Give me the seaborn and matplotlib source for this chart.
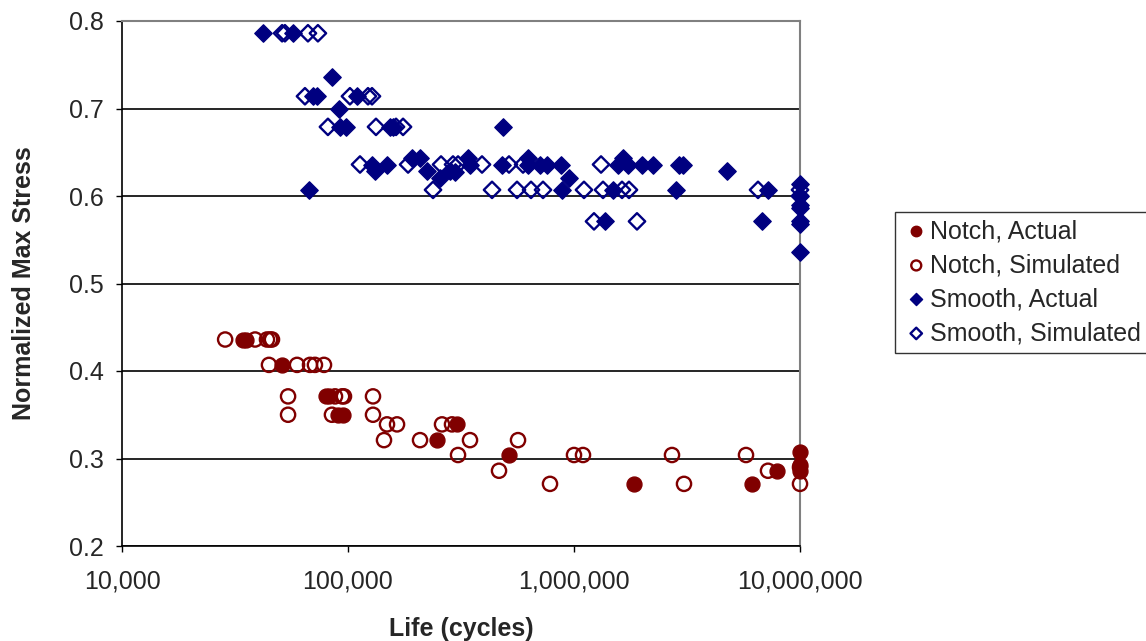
import matplotlib
matplotlib.use("Agg")
import matplotlib.pyplot as plt
import seaborn as sns
import pandas as pd
from matplotlib.ticker import FixedLocator, FuncFormatter, NullLocator

# ---- data ----
notch_actual_life = [34300, 35400, 51100, 79900, 82400, 90300, 95000, 303700, 247700,
                     515700, 1843000, 6132000, 7910000, 10000000, 10000000, 10000000]
notch_actual_stress = [0.436, 0.436, 0.407, 0.371, 0.371, 0.350, 0.350, 0.339, 0.321,
                       0.304, 0.271, 0.271, 0.286, 0.307, 0.293, 0.286]

notch_sim_life = [28600, 38800, 43800, 45200, 46100,
                  44700, 59500, 67900, 71400, 78300,
                  54300, 87600, 94100, 96000, 129000,
                  54300, 84900, 129000,
                  148800, 164800, 260600, 288500,
                  144300, 208300, 346600, 565300,
                  306800, 1000000, 1096000, 2714000, 5769000,
                  465800, 7218000, 10000000,
                  783100, 3067000, 10000000]
notch_sim_stress = [0.436, 0.436, 0.436, 0.436, 0.436,
                    0.407, 0.407, 0.407, 0.407, 0.407,
                    0.371, 0.371, 0.371, 0.371, 0.371,
                    0.350, 0.350, 0.350,
                    0.339, 0.339, 0.339, 0.339,
                    0.321, 0.321, 0.321, 0.321,
                    0.304, 0.304, 0.304, 0.304, 0.304,
                    0.286, 0.286, 0.290,
                    0.271, 0.271, 0.271]

smooth_actual_life = [42100, 57100, 84900, 70000, 72900, 109600, 91200, 92200, 98000,
                      153400, 158200, 67200, 127700, 131700, 148800, 192000, 208300,
                      223700, 255400, 282700, 297500, 339600, 346600, 480200, 485100,
                      625900, 625900, 707300, 759600, 876100, 950400, 885000, 1488000,
                      1372000, 1648000, 1565000, 1733000, 2000000, 2237000, 2827000,
                      2914000, 3036000, 4753000, 7218000, 6791000,
                      10000000, 10000000, 10000000, 10000000, 10000000, 10000000, 10000000]
smooth_actual_stress = [0.786, 0.786, 0.736, 0.714, 0.714, 0.714, 0.700, 0.679, 0.679,
                        0.679, 0.679, 0.607, 0.636, 0.629, 0.636, 0.643, 0.643,
                        0.629, 0.621, 0.629, 0.627, 0.643, 0.636, 0.636, 0.679,
                        0.643, 0.636, 0.636, 0.636, 0.636, 0.621, 0.607, 0.607,
                        0.571, 0.643, 0.636, 0.636, 0.636, 0.636, 0.607,
                        0.636, 0.636, 0.629, 0.607, 0.571,
                        0.614, 0.600, 0.590, 0.586, 0.571, 0.568, 0.536]

smooth_sim_life = [51100, 52600, 66500, 73600, 64500, 102000, 122600, 127700,
                   81500, 133000, 163100, 175200, 113000, 184400, 258000, 237800,
                   291500, 306800, 391700, 433800, 515700, 594900, 559600, 645300,
                   729200, 1107000, 1317000, 1344000, 1631000, 1751000, 1226000,
                   1900000, 6520000, 10000000, 10000000]
smooth_sim_stress = [0.786, 0.786, 0.786, 0.786, 0.714, 0.714, 0.714, 0.714,
                     0.679, 0.679, 0.679, 0.679, 0.636, 0.636, 0.636, 0.607,
                     0.636, 0.636, 0.636, 0.607, 0.636, 0.636, 0.607, 0.607,
                     0.607, 0.607, 0.636, 0.607, 0.607, 0.607, 0.571,
                     0.571, 0.607, 0.607, 0.600]

x_ticks = [10000, 100000, 1000000, 10000000]
y_ticks = [0.2, 0.3, 0.4, 0.5, 0.6, 0.7, 0.8]

series_names = ["Notch, Actual", "Notch, Simulated", "Smooth, Actual", "Smooth, Simulated"]

# ---- style ----
sns.set_style("white")
plt.rcParams['font.family'] = ['Liberation Sans', 'DejaVu Sans']

RED = "#800000"
NAVY = "#000080"
FS = 18

W, H = 1146, 641
fig = plt.figure(figsize=(W / 100, H / 100), dpi=100)
ax = fig.add_axes([122 / W, 1 - 546 / H, (800 - 122) / W, (546 - 21) / H])

frames = {
    series_names[0]: pd.DataFrame({"life": notch_actual_life, "stress": notch_actual_stress}),
    series_names[1]: pd.DataFrame({"life": notch_sim_life, "stress": notch_sim_stress}),
    series_names[2]: pd.DataFrame({"life": smooth_actual_life, "stress": smooth_actual_stress}),
    series_names[3]: pd.DataFrame({"life": smooth_sim_life, "stress": smooth_sim_stress}),
}

styles = {
    series_names[0]: dict(marker="o", s=115, facecolor=RED, edgecolor=RED, linewidth=1.0),
    series_names[1]: dict(marker="o", s=105, facecolor="none", edgecolor=RED, linewidth=1.7),
    series_names[2]: dict(marker="D", s=78, facecolor=NAVY, edgecolor=NAVY, linewidth=1.0),
    series_names[3]: dict(marker="D", s=70, facecolor="none", edgecolor=NAVY, linewidth=1.7),
}

for name in [series_names[1], series_names[0], series_names[3], series_names[2]]:
    df = frames[name]
    sns.scatterplot(data=df, x="life", y="stress", ax=ax, label=name,
                    clip_on=False, zorder=3, **styles[name])

ax.set_xscale("log")
ax.set_xlim(10000, 10000000)
ax.set_ylim(0.2, 0.8)
ax.xaxis.set_major_locator(FixedLocator(x_ticks))
ax.xaxis.set_minor_locator(NullLocator())
ax.xaxis.set_major_formatter(FuncFormatter(lambda v, p: f"{int(round(v)):,}"))
ax.set_yticks(y_ticks)
ax.yaxis.set_major_formatter(FuncFormatter(lambda v, p: f"{v:.1f}"))

ax.yaxis.grid(True, color="black", linewidth=1.2)
ax.xaxis.grid(False)
ax.set_axisbelow(True)

for side in ["left", "bottom"]:
    ax.spines[side].set_color("black")
    ax.spines[side].set_linewidth(1.2)
for side in ["top", "right"]:
    ax.spines[side].set_color("#808080")
    ax.spines[side].set_linewidth(1.5)

ax.tick_params(axis="both", which="major", direction="out", length=4, width=1.0,
               color="black", labelsize=FS, left=True, bottom=True)
ax.tick_params(axis="x", pad=13)
ax.tick_params(axis="y", pad=9)

ax.set_xlabel("Life (cycles)", fontsize=FS, fontweight="bold", labelpad=17)
ax.set_ylabel("Normalized Max Stress", fontsize=FS, fontweight="bold", labelpad=24)

handles, labels = ax.get_legend_handles_labels()
order = [labels.index(n) for n in series_names]
ax.legend_.remove()
leg = fig.legend([handles[i] for i in order], [labels[i] for i in order],
                 loc="center left", bbox_to_anchor=(895 / W, 1 - 282 / H),
                 fontsize=FS, markerscale=0.7, frameon=True, fancybox=False,
                 edgecolor="black", handletextpad=0.0, handlelength=1.1,
                 labelspacing=0.4, borderpad=0.3, borderaxespad=0.0)
leg.get_frame().set_linewidth(1.0)

fig.savefig("out.png", dpi=100, facecolor="white")
